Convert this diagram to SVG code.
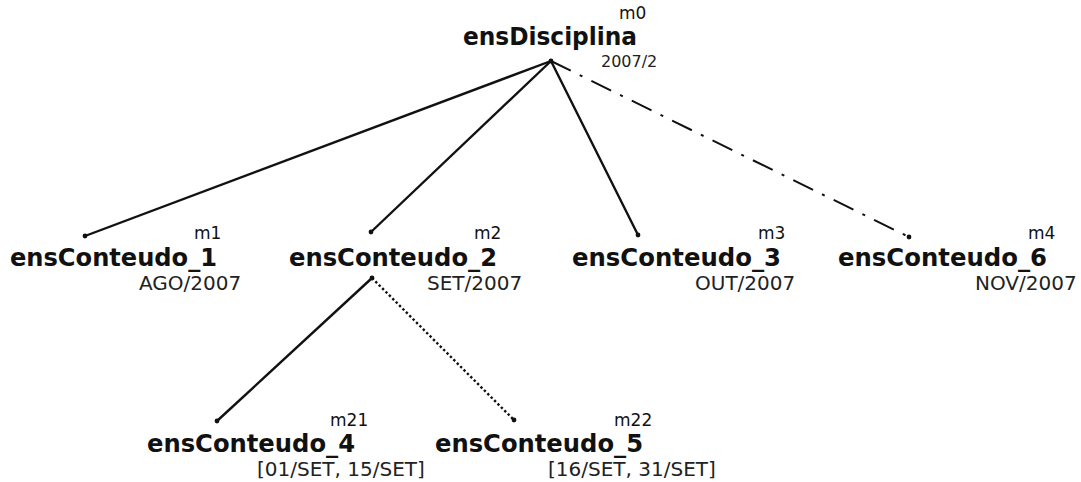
<svg xmlns="http://www.w3.org/2000/svg" width="1081" height="482" viewBox="0 0 1081 482">
  <style>
    .name { font-family: "DejaVu Sans", sans-serif; font-weight: bold; font-size: 24px; fill: #111; }
    .tag  { font-family: "DejaVu Sans", sans-serif; font-size: 17px; fill: #111; }
    .date { font-family: "DejaVu Sans", sans-serif; font-size: 20px; fill: #222; }
    .root-date { font-size: 16px; }
    .edge { stroke: #111; stroke-width: 2.4; fill: none; }
    .dashdot { stroke-dasharray: 22 10 3 10; stroke-width: 2; }
    .dotted { stroke-dasharray: 2.4 2.4; stroke-width: 2.4; }
    .end { fill: #111; }
  </style>
  <rect width="1081" height="482" fill="#fff"/>

  <!-- connectors -->
  <g id="connectors">
    <line class="edge" x1="551" y1="61" x2="85" y2="236"/>
    <line class="edge" x1="551" y1="61" x2="371" y2="232"/>
    <line class="edge" x1="551" y1="61" x2="638" y2="235"/>
    <line class="edge dashdot" x1="551" y1="61" x2="909" y2="237"/>
    <line class="edge" x1="372" y1="278" x2="217" y2="421"/>
    <line class="edge dotted" x1="372" y1="278" x2="514" y2="420"/>
    <circle class="end" cx="551" cy="61" r="2.4"/>
    <circle class="end" cx="85" cy="236" r="2.4"/>
    <circle class="end" cx="371" cy="232" r="2.4"/>
    <circle class="end" cx="638" cy="235" r="2.4"/>
    <circle class="end" cx="909" cy="237" r="2.4"/>
    <circle class="end" cx="372" cy="278" r="2.4"/>
    <circle class="end" cx="217" cy="421" r="2.4"/>
    <circle class="end" cx="514" cy="420" r="2.4"/>
  </g>

  <g id="m0">
    <text class="tag" x="619" y="19">m0</text>
    <text class="name" x="463" y="45" textLength="174" lengthAdjust="spacingAndGlyphs">ensDisciplina</text>
    <text class="date root-date" x="601" y="67">2007/2</text>
  </g>

  <g id="m1">
    <text class="tag" x="194" y="239">m1</text>
    <text class="name" x="10" y="266" textLength="207" lengthAdjust="spacingAndGlyphs">ensConteudo_1</text>
    <text class="date" x="139" y="290">AGO/2007</text>
  </g>

  <g id="m2">
    <text class="tag" x="474" y="239">m2</text>
    <text class="name" x="289" y="266" textLength="208" lengthAdjust="spacingAndGlyphs">ensConteudo_2</text>
    <text class="date" x="427" y="290">SET/2007</text>
  </g>

  <g id="m3">
    <text class="tag" x="758" y="239">m3</text>
    <text class="name" x="572" y="266" textLength="209" lengthAdjust="spacingAndGlyphs">ensConteudo_3</text>
    <text class="date" x="695" y="290">OUT/2007</text>
  </g>

  <g id="m4">
    <text class="tag" x="1028" y="239">m4</text>
    <text class="name" x="838" y="266" textLength="209" lengthAdjust="spacingAndGlyphs">ensConteudo_6</text>
    <text class="date" x="975" y="290">NOV/2007</text>
  </g>

  <g id="m21">
    <text class="tag" x="330" y="426">m21</text>
    <text class="name" x="147" y="452" textLength="208" lengthAdjust="spacingAndGlyphs">ensConteudo_4</text>
    <text class="date" x="257" y="476">[01/SET, 15/SET]</text>
  </g>

  <g id="m22">
    <text class="tag" x="614" y="426">m22</text>
    <text class="name" x="435" y="452" textLength="208" lengthAdjust="spacingAndGlyphs">ensConteudo_5</text>
    <text class="date" x="548" y="476">[16/SET, 31/SET]</text>
  </g>
</svg>
